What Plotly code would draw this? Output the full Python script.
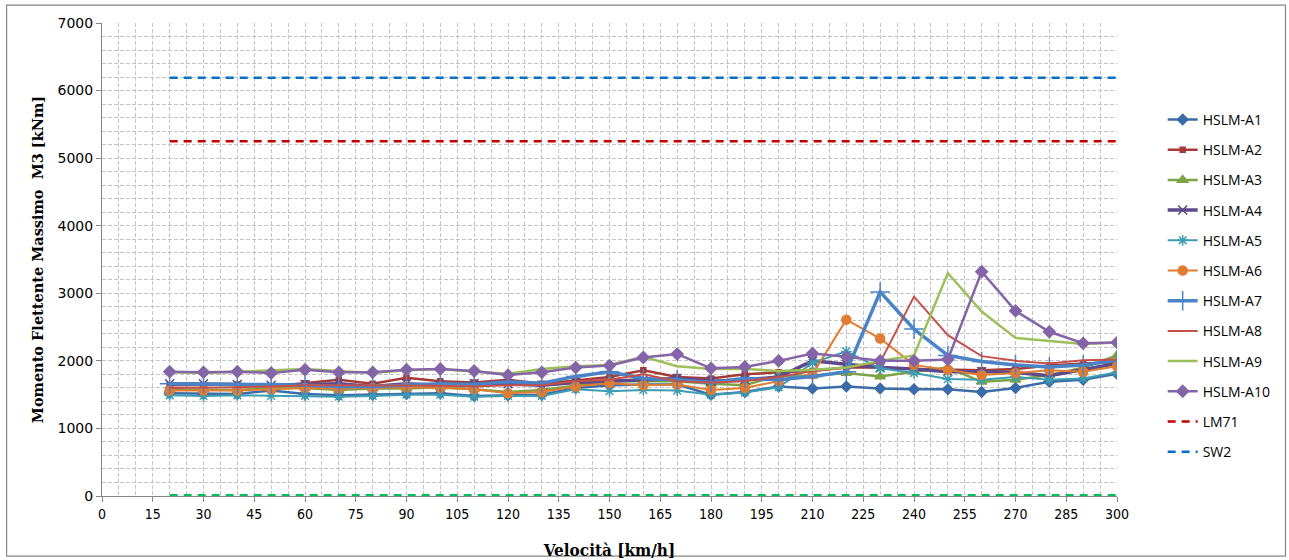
import plotly.graph_objects as go

# Velocità [km/h]
speed = list(range(20, 310, 10))

# Momento flettente massimo M3 [kNm] per treno HSLM
hslm_a1 = [1520, 1510, 1510, 1560, 1510, 1490, 1500, 1510, 1520, 1480, 1490, 1500, 1600, 1640, 1650,
           1650, 1500, 1540, 1620, 1590, 1620, 1590, 1580, 1580, 1540, 1600, 1690, 1720, 1810]
hslm_a2 = [1640, 1640, 1650, 1620, 1670, 1720, 1660, 1750, 1700, 1680, 1720, 1660, 1710, 1760, 1860,
           1760, 1740, 1800, 1830, 1850, 1900, 1900, 1880, 1870, 1860, 1880, 1930, 1960, 1980]
hslm_a3 = [1580, 1580, 1570, 1600, 1600, 1570, 1590, 1590, 1610, 1580, 1540, 1570, 1640, 1700, 1700,
           1700, 1660, 1640, 1780, 1780, 1820, 1770, 1840, 1900, 1690, 1720, 1790, 1900, 2080]
hslm_a4 = [1660, 1660, 1650, 1640, 1650, 1660, 1620, 1660, 1640, 1660, 1660, 1640, 1680, 1700, 1720,
           1740, 1700, 1720, 1760, 2000, 1950, 1900, 1880, 1840, 1840, 1830, 1780, 1870, 1960]
hslm_a5 = [1490, 1480, 1490, 1480, 1480, 1470, 1480, 1500, 1500, 1470, 1480, 1480, 1580, 1550, 1570,
           1560, 1500, 1530, 1610, 1970, 2140, 1890, 1820, 1730, 1720, 1760, 1720, 1740, 1830]
hslm_a6 = [1560, 1560, 1560, 1580, 1600, 1590, 1600, 1610, 1600, 1580, 1520, 1540, 1620, 1670, 1640,
           1650, 1570, 1600, 1700, 1800, 2610, 2330, 1940, 1870, 1790, 1820, 1860, 1840, 1920]
hslm_a7 = [1660, 1660, 1660, 1650, 1640, 1620, 1620, 1640, 1660, 1650, 1690, 1670, 1770, 1840, 1740,
           1720, 1680, 1740, 1720, 1770, 1840, 3020, 2470, 2080, 1990, 1940, 1910, 1940, 2010]
hslm_a8 = [1600, 1600, 1610, 1620, 1640, 1640, 1640, 1630, 1630, 1620, 1640, 1640, 1700, 1720, 1800,
           1700, 1680, 1700, 1760, 1850, 1900, 1980, 2950, 2380, 2070, 2000, 1960, 2010, 2020]
hslm_a9 = [1830, 1820, 1840, 1860, 1880, 1850, 1820, 1860, 1880, 1840, 1810, 1880, 1920, 1940, 2060,
           1920, 1880, 1880, 1850, 1870, 1900, 2000, 2080, 3300, 2730, 2340, 2290, 2250, 2270]
hslm_a10 = [1840, 1830, 1840, 1820, 1870, 1830, 1830, 1870, 1880, 1850, 1790, 1830, 1900, 1930, 2050,
            2100, 1890, 1910, 2000, 2110, 2060, 2000, 2000, 2020, 3320, 2740, 2430, 2260, 2270]

# Valori limite costanti
lm71 = [5250] * len(speed)
sw2 = [6190] * len(speed)
zero_line = [0] * len(speed)

series = [
    ("HSLM-A1", hslm_a1, "#3B6CA8", 2.5, "diamond", 8),
    ("HSLM-A2", hslm_a2, "#A53A37", 2.5, "square", 5),
    ("HSLM-A3", hslm_a3, "#7DA344", 2.5, "triangle-up", 9),
    ("HSLM-A4", hslm_a4, "#5E4A8A", 3.5, "x-thin-open", 9),
    ("HSLM-A5", hslm_a5, "#3D9DB3", 2.0, "asterisk-open", 9),
    ("HSLM-A6", hslm_a6, "#E07D32", 2.0, "circle", 9),
    ("HSLM-A7", hslm_a7, "#4A84C6", 3.5, "cross-thin-open", 14),
    ("HSLM-A8", hslm_a8, "#C4504C", 2.0, None, 0),
    ("HSLM-A9", hslm_a9, "#9BC05A", 2.5, None, 0),
    ("HSLM-A10", hslm_a10, "#8465A8", 2.5, "diamond", 9),
]

fig = go.Figure()

for name, vals, color, width, symbol, size in series:
    if symbol:
        mode = "lines+markers"
        marker = dict(symbol=symbol, size=size, color=color,
                      line=dict(color=color, width=1.5))
    else:
        mode = "lines"
        marker = None
    fig.add_trace(go.Scatter(
        x=speed, y=vals, name=name, mode=mode,
        line=dict(color=color, width=width),
        marker=marker, legendgroup=name,
    ))

fig.add_trace(go.Scatter(x=speed, y=lm71, name="LM71", mode="lines",
                         line=dict(color="#C00000", width=2.5, dash="8px,6px"),
                         legendgroup="LM71"))
fig.add_trace(go.Scatter(x=speed, y=sw2, name="SW2", mode="lines",
                         line=dict(color="#0070C0", width=2.5, dash="8px,6px"),
                         legendgroup="SW2"))
fig.add_trace(go.Scatter(x=speed, y=zero_line, mode="lines", showlegend=False,
                         cliponaxis=False,
                         line=dict(color="#00C060", width=4, dash="8px,6px")))

grid_col = "#C4C4C4"
grid_dash = "4px,2px"

fig.update_layout(
    width=1289, height=560,
    margin=dict(l=102, r=172, t=23, b=64),
    paper_bgcolor="white", plot_bgcolor="white",
    font=dict(family="Noto Sans", color="#000000"),
    legend=dict(
        x=1.045, y=0.829, xanchor="left", yanchor="top",
        font=dict(size=14, family="Open Sans"),
        tracegroupgap=9, bgcolor="rgba(0,0,0,0)",
    ),
    xaxis=dict(
        range=[0, 300], dtick=15, tick0=0, automargin=False, layer="below traces",
        showgrid=True, gridcolor=grid_col, griddash=grid_dash, gridwidth=1,
        minor=dict(dtick=5, showgrid=True, gridcolor=grid_col, griddash=grid_dash, gridwidth=1),
        showline=True, linecolor="#868686", linewidth=1,
        ticks="outside", ticklen=5, tickcolor="#868686",
        tickfont=dict(size=14, family="DejaVu Sans Condensed"),
        zeroline=False,
        title=dict(text="<b>Velocità [km/h]</b>", standoff=28,
                   font=dict(size=17, family="DejaVu Serif Condensed")),
    ),
    yaxis=dict(
        range=[0, 7000], dtick=1000, automargin=False, layer="below traces",
        showgrid=True, gridcolor=grid_col, griddash=grid_dash, gridwidth=1,
        minor=dict(dtick=200, showgrid=True, gridcolor=grid_col, griddash=grid_dash, gridwidth=1),
        showline=True, linecolor="#868686", linewidth=1,
        ticks="outside", ticklen=5, tickcolor="#868686",
        tickfont=dict(size=14, family="DejaVu Sans"),
        zeroline=False,
        title=dict(text="<b>Momento Flettente Massimo  M3 [kNm]</b>", standoff=10,
                   font=dict(size=14.5, family="DejaVu Serif")),
    ),
    shapes=[dict(type="rect", xref="paper", yref="paper",
                 x0=-0.094, x1=1.166, y0=-0.127, y1=1.038,
                 line=dict(color="#868686", width=1.2), layer="below")],
)

fig.write_html("out.html")
